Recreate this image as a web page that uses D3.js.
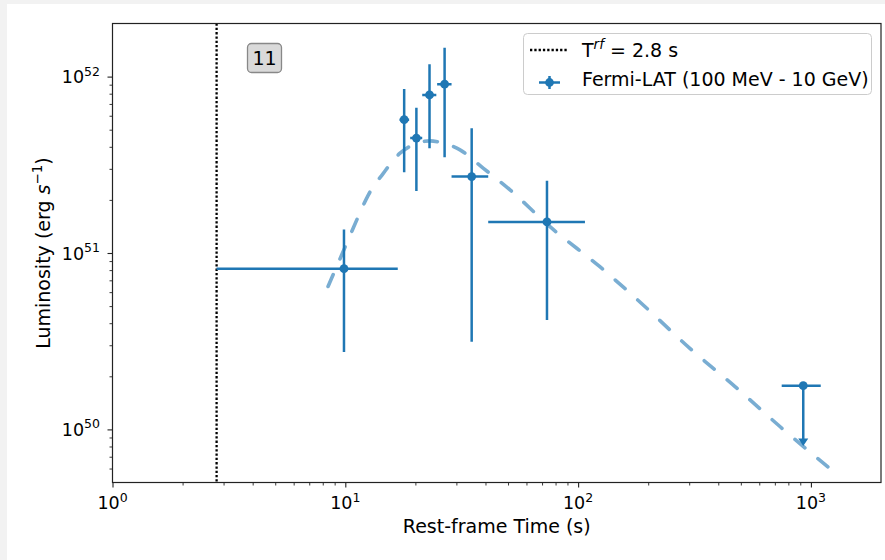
<!DOCTYPE html>
<html>
<head>
<meta charset="utf-8">
<script src="https://cdn.jsdelivr.net/npm/d3@7"></script>
<style>
  body { margin: 0; background: #f2f2f2; }
  svg { display: block; }
  text { font-family: "DejaVu Sans", sans-serif; fill: #000; }
</style>
</head>
<body>
<div id="container"></div>
<script>
let width = 885
let height = 560

// Fermi-LAT detections (rest-frame time in s, luminosity in erg/s)
const tMid = [9.87, 17.9, 20.2, 23.0, 26.7, 34.9, 73.5]
const tLo = [2.8, 17.1, 19.0, 21.4, 24.8, 28.6, 41.1]
const tHi = [16.8, 18.8, 21.4, 24.6, 28.6, 41.1, 107]
const lum = [8.15e50, 5.7e51, 4.48e51, 7.87e51, 9.06e51, 2.71e51, 1.5e51]
const lumLo = [2.75e50, 2.87e51, 2.25e51, 3.93e51, 3.49e51, 3.14e50, 4.17e50]
const lumHi = [1.36e51, 8.51e51, 6.67e51, 1.175e52, 1.455e52, 5.1e51, 2.57e51]

// upper limit
const ulT = [927]
const ulTLo = [749]
const ulTHi = [1102]
const ulLum = [1.77e50]
const ulTip = [8.06e49]

// dashed model curve
const curveT = [8.43, 10.14, 11.37, 12.55, 14.56, 17.18, 19.92, 23.1, 26.0, 31.1, 39.2, 51.0, 75.7, 124, 194, 302, 472, 738, 1228]
const curveL = [6.46e50, 1.135e51, 1.61e51, 2.13e51, 2.83e51, 3.68e51, 4.15e51, 4.32e51, 4.22e51, 3.84e51, 3.02e51, 2.28e51, 1.41e51, 8.36e50, 4.96e50, 2.88e50, 1.75e50, 1.035e50, 5.88e49]

const tRest = 2.8
const xTicks = [1, 10, 100, 1000]
const xTickExp = ["0", "1", "2", "3"]
const yTicks = [1e50, 1e51, 1e52]
const yTickExp = ["50", "51", "52"]

const blue = "#1f77b4"

let x = d3.scaleLog()
    .domain([1, 2000])
    .range([112.5, 881])

let y = d3.scaleLog()
    .domain([5e49, 2e52])
    .range([482.5, 23.5])

let svg = d3.select("#container")
    .append("svg")
    .attr("width", width)
    .attr("height", height)

svg.append("rect")
    .attr("x", 7).attr("y", 4)
    .attr("width", width - 7).attr("height", height - 4)
    .attr("fill", "#fff")

// minor ticks
let xMinor = []
for (let d = 0; d < 4; d++) for (let k = 2; k < 10; k++) {
    let v = k * Math.pow(10, d)
    if (v < 2000) xMinor.push(v)
}
let yMinor = []
for (let d = 49; d < 53; d++) for (let k = 2; k < 10; k++) {
    let v = k * Math.pow(10, d)
    if (v > 5e49 && v < 2e52) yMinor.push(v)
}

let xAxis = g => g
    .attr("transform", `translate(0,${y.range()[0]})`)
    .call(d3.axisBottom(x).tickValues(xTicks).tickSize(5).tickFormat(""))
    .call(g => g.select(".domain").remove())

let xAxisMinor = g => g
    .attr("transform", `translate(0,${y.range()[0]})`)
    .call(d3.axisBottom(x).tickValues(xMinor).tickSize(3).tickFormat(""))
    .call(g => g.select(".domain").remove())

let yAxis = g => g
    .attr("transform", `translate(${x.range()[0]},0)`)
    .call(d3.axisLeft(y).tickValues(yTicks).tickSize(5).tickFormat(""))
    .call(g => g.select(".domain").remove())

let yAxisMinor = g => g
    .attr("transform", `translate(${x.range()[0]},0)`)
    .call(d3.axisLeft(y).tickValues(yMinor).tickSize(3).tickFormat(""))
    .call(g => g.select(".domain").remove())

svg.append("g").call(xAxis).selectAll("line").attr("stroke", "#222").attr("stroke-width", 1.1)
svg.append("g").call(xAxisMinor).selectAll("line").attr("stroke", "#222").attr("stroke-width", 0.9)
svg.append("g").call(yAxis).selectAll("line").attr("stroke", "#222").attr("stroke-width", 1.1)
svg.append("g").call(yAxisMinor).selectAll("line").attr("stroke", "#222").attr("stroke-width", 0.9)

// tick labels 10^n
xTicks.forEach((v, i) => {
    let t = svg.append("text")
        .attr("x", x(v))
        .attr("y", 509)
        .attr("text-anchor", "middle")
        .style("font-size", "17.5px")
    t.append("tspan").text("10")
    t.append("tspan").attr("dy", -7.5).style("font-size", "12.5px").text(xTickExp[i])
})

yTicks.forEach((v, i) => {
    let t = svg.append("text")
        .attr("x", 100)
        .attr("y", y(v) + 6.5)
        .attr("text-anchor", "end")
        .style("font-size", "17.5px")
    t.append("tspan").text("10")
    t.append("tspan").attr("dy", -7.5).style("font-size", "12.5px").text(yTickExp[i])
})

// axis labels
svg.append("text")
    .attr("x", (x.range()[0] + x.range()[1]) / 2)
    .attr("y", 533)
    .attr("text-anchor", "middle")
    .style("font-size", "19px")
    .text("Rest-frame Time (s)")

let yl = svg.append("text")
    .attr("transform", `translate(50,${(y.range()[0] + y.range()[1]) / 2}) rotate(-90)`)
    .attr("text-anchor", "middle")
    .style("font-size", "19px")
yl.append("tspan").text("Luminosity (erg ")
yl.append("tspan").style("font-style", "italic").text("s")
yl.append("tspan").attr("dy", -8).style("font-size", "13.5px").text("\u22121")
yl.append("tspan").attr("dy", 8).text(")")

// plot area clip
svg.append("clipPath").attr("id", "clip")
    .append("rect")
    .attr("x", x.range()[0]).attr("y", y.range()[1])
    .attr("width", x.range()[1] - x.range()[0])
    .attr("height", y.range()[0] - y.range()[1])

let plot = svg.append("g").attr("clip-path", "url(#clip)")

// T_rf line
plot.append("line")
    .attr("x1", x(tRest)).attr("x2", x(tRest))
    .attr("y1", y.range()[1]).attr("y2", y.range()[0])
    .attr("stroke", "#000")
    .attr("stroke-width", 2.3)
    .attr("stroke-dasharray", "2.3,2")

// model curve
let line = d3.line()
    .x(d => x(d[0]))
    .y(d => y(d[1]))
    .curve(d3.curveMonotoneX)

plot.append("path")
    .datum(curveT.map((t, i) => [t, curveL[i]]))
    .attr("fill", "none")
    .attr("stroke", blue)
    .attr("stroke-opacity", 0.6)
    .attr("stroke-width", 3.6)
    .attr("stroke-linecap", "round")
    .attr("stroke-dasharray", "13,17")
    .attr("d", line)

// error bars
let pts = tMid.map((t, i) => ({ t, lo: tLo[i], hi: tHi[i], l: lum[i], llo: lumLo[i], lhi: lumHi[i] }))

let eb = plot.append("g")
    .attr("stroke", blue)
    .attr("stroke-width", 2.5)

eb.selectAll(".xe")
    .data(pts)
    .join("line")
    .attr("x1", d => x(d.lo)).attr("x2", d => x(d.hi))
    .attr("y1", d => y(d.l)).attr("y2", d => y(d.l))

eb.selectAll(".ye")
    .data(pts)
    .join("line")
    .attr("x1", d => x(d.t)).attr("x2", d => x(d.t))
    .attr("y1", d => y(d.llo)).attr("y2", d => y(d.lhi))

plot.selectAll(".dot")
    .data(pts)
    .join("circle")
    .attr("cx", d => x(d.t))
    .attr("cy", d => y(d.l))
    .attr("r", 4.4)
    .attr("fill", blue)

// upper limit
let ul = ulT.map((t, i) => ({ t, lo: ulTLo[i], hi: ulTHi[i], l: ulLum[i], tip: ulTip[i] }))

eb.selectAll(".ulx")
    .data(ul)
    .join("line")
    .attr("x1", d => x(d.lo)).attr("x2", d => x(d.hi))
    .attr("y1", d => y(d.l)).attr("y2", d => y(d.l))

eb.selectAll(".uly")
    .data(ul)
    .join("line")
    .attr("x1", d => x(d.t)).attr("x2", d => x(d.t))
    .attr("y1", d => y(d.l)).attr("y2", d => y(d.tip) - 3)

plot.selectAll(".ularrow")
    .data(ul)
    .join("path")
    .attr("d", d => {
        let cx = x(d.t), ty = y(d.tip)
        return `M${cx - 5},${ty - 7.5}L${cx + 5},${ty - 7.5}L${cx},${ty}Z`
    })
    .attr("fill", blue)

plot.selectAll(".uldot")
    .data(ul)
    .join("circle")
    .attr("cx", d => x(d.t))
    .attr("cy", d => y(d.l))
    .attr("r", 4.4)
    .attr("fill", blue)

// frame
svg.append("rect")
    .attr("x", x.range()[0]).attr("y", y.range()[1])
    .attr("width", x.range()[1] - x.range()[0])
    .attr("height", y.range()[0] - y.range()[1])
    .attr("fill", "none")
    .attr("stroke", "#222")
    .attr("stroke-width", 1.2)

// burst number box
svg.append("rect")
    .attr("x", 247.5).attr("y", 43.5)
    .attr("width", 34).attr("height", 29)
    .attr("rx", 4)
    .attr("fill", "#dadada")
    .attr("stroke", "#888")
    .attr("stroke-width", 1.3)
svg.append("text")
    .attr("x", 264.5).attr("y", 64.5)
    .attr("text-anchor", "middle")
    .style("font-size", "19px")
    .text("11")

// legend
let lg = svg.append("g")
lg.append("rect")
    .attr("x", 523.5).attr("y", 33.5)
    .attr("width", 348).attr("height", 61)
    .attr("rx", 4)
    .attr("fill", "#fff")
    .attr("fill-opacity", 0.8)
    .attr("stroke", "#ccc")
    .attr("stroke-width", 1)

lg.append("line")
    .attr("x1", 530).attr("x2", 568)
    .attr("y1", 50).attr("y2", 50)
    .attr("stroke", "#000")
    .attr("stroke-width", 2.3)
    .attr("stroke-dasharray", "2.3,2")

let lt = lg.append("text").attr("x", 582).attr("y", 56.5).style("font-size", "19px")
lt.append("tspan").text("T")
lt.append("tspan").attr("dy", -8).style("font-size", "13.5px").style("font-style", "italic").text("rf")
lt.append("tspan").attr("dy", 8).text(" = 2.8 s")

lg.append("line")
    .attr("x1", 539).attr("x2", 560)
    .attr("y1", 82.5).attr("y2", 82.5)
    .attr("stroke", blue).attr("stroke-width", 2.5)
lg.append("line")
    .attr("x1", 549.5).attr("x2", 549.5)
    .attr("y1", 76).attr("y2", 89)
    .attr("stroke", blue).attr("stroke-width", 2.5)
lg.append("circle")
    .attr("cx", 549.5).attr("cy", 82.5).attr("r", 4.4)
    .attr("fill", blue)

lg.append("text")
    .attr("x", 582).attr("y", 85.5)
    .style("font-size", "19px")
    .text("Fermi-LAT (100 MeV - 10 GeV)")
</script>
</body>
</html>
